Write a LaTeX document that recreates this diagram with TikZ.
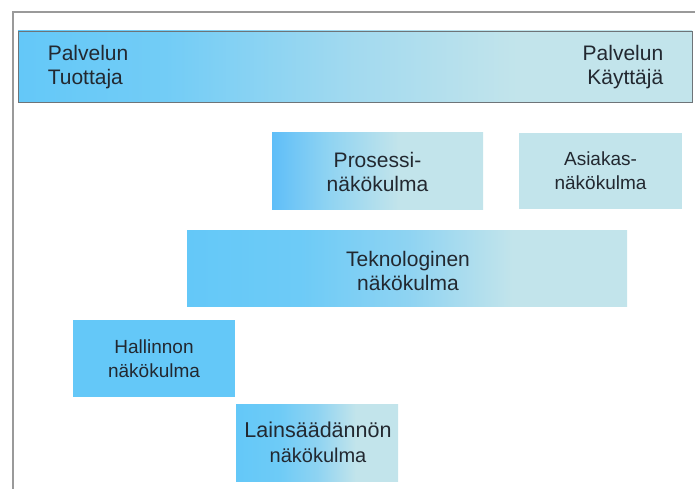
\documentclass[tikz,border=0pt]{standalone}
\usepackage{fontspec}
\setmainfont{Liberation Sans}
\definecolor{skyA}{HTML}{64C8F8}
\definecolor{skyB}{HTML}{8ED3F2}
\definecolor{paleC}{HTML}{C2E4EB}
\definecolor{framegrey}{HTML}{9A9A9A}
\definecolor{bargrey}{HTML}{6E7478}
\definecolor{ink}{HTML}{222830}
% horizontal fades; the filled path spans 25bp..75bp
\pgfdeclarehorizontalshading{barfade}{100bp}{color(0bp)=(skyA); color(25bp)=(skyA); color(36bp)=(skyA!85!paleC); color(50bp)=(skyB!60!paleC); color(62bp)=(paleC); color(100bp)=(paleC)}
\pgfdeclarehorizontalshading{quickfade}{100bp}{color(0bp)=(skyA); color(25bp)=(skyA!95!blue); color(38bp)=(skyB); color(55bp)=(paleC); color(100bp)=(paleC)}
\pgfdeclarehorizontalshading{slowfade}{100bp}{color(0bp)=(skyA); color(25bp)=(skyA); color(38bp)=(skyA!90!paleC); color(50bp)=(skyB); color(62bp)=(paleC); color(100bp)=(paleC)}
\begin{document}
\begin{tikzpicture}[x=1pt,y=-1pt,
  lbl/.style={text=ink, font=\fontsize{21}{24}\selectfont, align=center, inner sep=0pt},
  viewbox/.style={inner sep=0pt, minimum width=#1, minimum height=76pt},
  viewbox/.default=162pt]
\useasboundingbox (0,0) rectangle (695,489);
% outer frame, left and top edges
\draw[framegrey, line width=1.6pt] (13,489) -- (13,12) -- (695,12);
% service bar
\node[draw=bargrey, line width=0.8pt, shading=barfade, inner sep=0pt,
      minimum width=674pt, minimum height=71pt] (bar) at (355,66.5) {};
\node[lbl, anchor=west, align=left] (prod)
  at ([xshift=30pt,yshift=-1pt]bar.west) {Palvelun\\Tuottaja};
\node[lbl, anchor=east, align=right] (user)
  at ([xshift=-29pt,yshift=-1pt]bar.east) {Palvelun\\Käyttäjä};
% viewpoint boxes
\node[viewbox=211pt, shading=quickfade] (proc) at (377.5,171) {};
\node[lbl] at ([yshift=-1pt]proc.center) {Prosessi-\\näkökulma};
\node[viewbox=163pt, fill=paleC] (cust) at (600.5,171) {};
\node[lbl, font=\fontsize{19}{24}\selectfont] at (cust) {Asiakas-\\näkökulma};
\node[viewbox=440pt, shading=slowfade] (tech) at (407,268) {};
\node[lbl] at ([xshift=1pt,yshift=-3pt]tech.center) {Teknologinen\\näkökulma};
\node[viewbox=162pt, minimum height=77pt, fill=skyA] (admin) at (154,358.5) {};
\node[lbl, font=\fontsize{19}{24}\selectfont] at (admin) {Hallinnon\\näkökulma};
\node[viewbox=162pt, minimum height=77pt, shading=slowfade] (law) at (317,442.5) {};
\node[lbl, font=\fontsize{21.5}{25}\selectfont] at ([xshift=1pt]law.center)
  {Lainsäädännön\\{\fontsize{20}{25}\selectfont näkökulma}};
\end{tikzpicture}
\end{document}
